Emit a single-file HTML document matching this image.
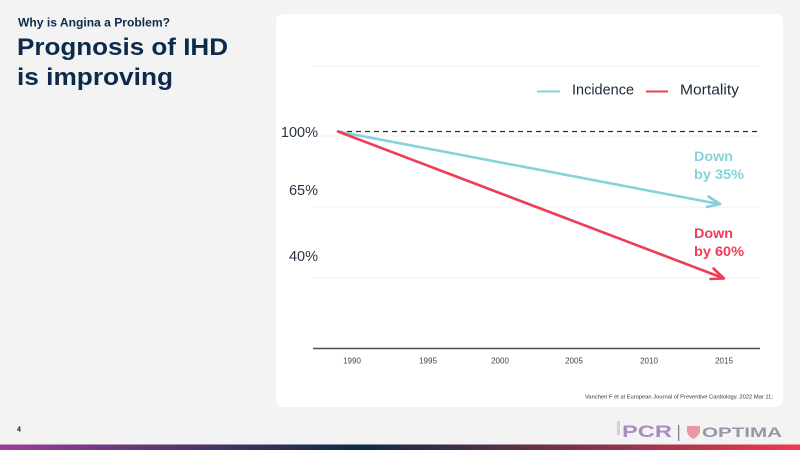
<!DOCTYPE html>
<html>
<head>
<meta charset="utf-8">
<style>
html,body{margin:0;padding:0;}
body{width:800px;height:450px;overflow:hidden;background:#f3f3f3;font-family:"Liberation Sans",sans-serif;}
svg{display:block;}
</style>
</head>
<body>
<svg width="800" height="450" viewBox="0 0 800 450" xmlns="http://www.w3.org/2000/svg">
  <defs>
    <linearGradient id="bar" x1="0" y1="0" x2="1" y2="0">
      <stop offset="0" stop-color="#9c3f98"/>
      <stop offset="0.45" stop-color="#0e2a45"/>
      <stop offset="1" stop-color="#ef3a4e"/>
    </linearGradient>
  </defs>
  <rect x="0" y="0" width="800" height="450" fill="#f3f3f3"/>

  <!-- Titles -->
  <text x="18" y="26.5" font-family="Liberation Sans, sans-serif" font-weight="bold" font-size="12" fill="#0c2b4b" textLength="152" lengthAdjust="spacingAndGlyphs">Why is Angina a Problem?</text>
  <text x="17" y="55" font-family="Liberation Sans, sans-serif" font-weight="bold" font-size="24" fill="#0c2b4b" textLength="211" lengthAdjust="spacingAndGlyphs">Prognosis of IHD</text>
  <text x="17" y="85" font-family="Liberation Sans, sans-serif" font-weight="bold" font-size="24" fill="#0c2b4b" textLength="156" lengthAdjust="spacingAndGlyphs">is improving</text>

  <!-- Card -->
  <rect x="276" y="14" width="507" height="393" rx="7" ry="7" fill="#ffffff"/>

  <!-- Gridlines -->
  <g stroke="#efefef" stroke-width="1">
    <line x1="313" y1="66" x2="760" y2="66"/>
    <line x1="313" y1="136" x2="760" y2="136"/>
    <line x1="313" y1="207" x2="760" y2="207"/>
    <line x1="313" y1="278" x2="760" y2="278"/>
  </g>
  <!-- Axis -->
  <line x1="313" y1="348.5" x2="760" y2="348.5" stroke="#44505c" stroke-width="1.5"/>

  <!-- Y labels -->
  <g font-family="Liberation Sans, sans-serif" font-size="14.5" fill="#2a3442" text-anchor="end">
    <text x="318" y="137">100%</text>
    <text x="318" y="195">65%</text>
    <text x="318" y="261">40%</text>
  </g>

  <!-- X labels -->
  <g font-family="Liberation Sans, sans-serif" font-size="8" fill="#444" text-anchor="middle">
    <text x="352" y="363.5">1990</text>
    <text x="428" y="363.5">1995</text>
    <text x="500" y="363.5">2000</text>
    <text x="574" y="363.5">2005</text>
    <text x="649" y="363.5">2010</text>
    <text x="724" y="363.5">2015</text>
  </g>

  <!-- Legend -->
  <line x1="537" y1="91.5" x2="560" y2="91.5" stroke="#84d3dc" stroke-width="2"/>
  <text x="572" y="94.3" font-family="Liberation Sans, sans-serif" font-size="15" fill="#1d2a3a" textLength="62" lengthAdjust="spacingAndGlyphs">Incidence</text>
  <line x1="646" y1="91.5" x2="668" y2="91.5" stroke="#ee3d55" stroke-width="2"/>
  <text x="680" y="94.3" font-family="Liberation Sans, sans-serif" font-size="15" fill="#1d2a3a" textLength="59" lengthAdjust="spacingAndGlyphs">Mortality</text>

  <!-- Dashed baseline -->
  <line x1="338" y1="131.5" x2="760" y2="131.5" stroke="#1f2f45" stroke-width="1.2" stroke-dasharray="5 4"/>

  <!-- Incidence line -->
  <g stroke="#84d3dc" stroke-width="2.6" fill="none" stroke-linecap="round" stroke-linejoin="round">
    <line x1="338" y1="131.5" x2="719" y2="204"/>
    <polyline points="708.5,196.5 720,204 707,207"/>
  </g>
  <!-- Mortality line -->
  <g stroke="#ee3d55" stroke-width="2.6" fill="none" stroke-linecap="round" stroke-linejoin="round">
    <line x1="338" y1="131.5" x2="723" y2="278"/>
    <polyline points="713.5,268.5 724,278.5 710.5,279"/>
  </g>

  <!-- Annotations -->
  <g font-family="Liberation Sans, sans-serif" font-weight="bold" font-size="14">
    <text x="694" y="161" fill="#84d3dc" textLength="39" lengthAdjust="spacingAndGlyphs">Down</text>
    <text x="694" y="179" fill="#84d3dc" textLength="50" lengthAdjust="spacingAndGlyphs">by 35%</text>
    <text x="694" y="238" fill="#ee3d55" textLength="39" lengthAdjust="spacingAndGlyphs">Down</text>
    <text x="694" y="256" fill="#ee3d55" textLength="50" lengthAdjust="spacingAndGlyphs">by 60%</text>
  </g>

  <!-- Citation -->
  <text x="773" y="398.5" text-anchor="end" font-family="Liberation Sans, sans-serif" font-size="5.5" fill="#333" textLength="188" lengthAdjust="spacingAndGlyphs">Vancheri F et al European Journal of Preventive Cardiology. 2022 Mar 11;</text>

  <!-- Page number -->
  <text x="17" y="431.5" font-family="Liberation Sans, sans-serif" font-weight="bold" font-size="7" fill="#111">4</text>

  <!-- Logos -->
  <g opacity="0.85">
    <rect x="617" y="421" width="3" height="14" fill="#d4c6e0"/>
    <text x="622" y="437" font-family="Liberation Sans, sans-serif" font-weight="bold" font-size="17" fill="#9a7bb6" textLength="50" lengthAdjust="spacingAndGlyphs">PCR</text>
    <rect x="678" y="425" width="1.3" height="16" fill="#6a6a80"/>
    <path d="M687,426 L700,426 L700,432 Q698,437 693,439 Q688,436 687,432 Z" fill="#e58a92"/>
    <text x="702" y="437" font-family="Liberation Sans, sans-serif" font-weight="bold" font-size="14" fill="#85879a" textLength="80" lengthAdjust="spacingAndGlyphs">OPTIMA</text>
  </g>

  <!-- Bottom bar -->
  <rect x="0" y="444.5" width="800" height="5.5" fill="url(#bar)"/>
</svg>
</body>
</html>
